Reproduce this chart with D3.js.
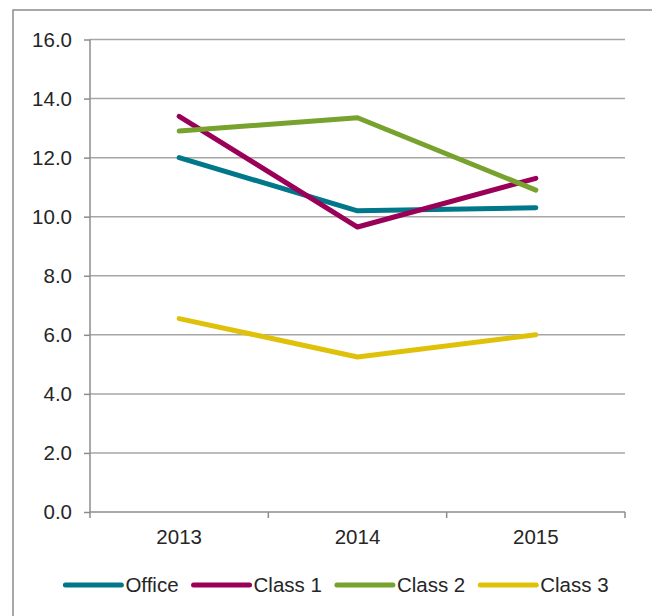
<!DOCTYPE html>
<html>
<head>
<meta charset="utf-8">
<script src="https://cdnjs.cloudflare.com/ajax/libs/d3/7.8.5/d3.min.js"></script>
<style>
  body { margin: 0; background: #fff; }
  text { font-family: "Liberation Sans", Arial, sans-serif; fill: #262626; }
</style>
</head>
<body>
<div id="chart"></div>
<script>
// chart values
var years = ["2013", "2014", "2015"];
var seriesNames = ["Office", "Class 1", "Class 2", "Class 3"];
var office = [12.0, 10.2, 10.3];
var class1 = [13.4, 9.65, 11.3];
var class2 = [12.9, 13.35, 10.9];
var class3 = [6.55, 5.25, 6.0];
var yTicks = [0, 2, 4, 6, 8, 10, 12, 14, 16];
var colors = ["#00788a", "#9b0058", "#77a22d", "#dfc10a"];

function init(){
    var w = 652;
    var h = 616;
    var margin = {left: 90, right: 27, top: 39.5, bottom: 104};
    var fontSize = 20.5;

    var svg = d3.select("#chart")
                .append("svg")
                .attr("width", w)
                .attr("height", h);

    // outer frame of the chart area
    svg.append("rect")
        .attr("x", 13).attr("y", 10)
        .attr("width", 700).attr("height", 700)
        .attr("fill", "none")
        .attr("stroke", "#8c8c8c")
        .attr("stroke-width", 1.5);

    var x = d3.scaleBand()
              .domain(years)
              .range([margin.left, w - margin.right]);

    var y = d3.scaleLinear()
              .domain([0, 16])
              .range([h - margin.bottom, margin.top]);

    // horizontal gridlines
    svg.append("g")
        .selectAll("line")
        .data(yTicks.filter(function(d){ return d > 0; }))
        .enter()
        .append("line")
        .attr("x1", margin.left)
        .attr("x2", w - margin.right)
        .attr("y1", function(d){ return y(d); })
        .attr("y2", function(d){ return y(d); })
        .attr("stroke", "#a6a6a6")
        .attr("stroke-width", 1.5);

    var yAxis = svg.append("g")
        .attr("transform", "translate(" + margin.left + ",0)")
        .call(d3.axisLeft(y).tickValues(yTicks).tickFormat(d3.format(".1f")).tickSize(6).tickPadding(12));

    var xAxis = svg.append("g")
        .attr("transform", "translate(0," + y(0) + ")")
        .call(d3.axisBottom(x).tickSize(0).tickPadding(17));

    // category boundary ticks on the x axis
    var bounds = [margin.left].concat(years.map(function(d){ return x(d) + x.bandwidth(); }));
    svg.append("g")
        .selectAll("line")
        .data(bounds)
        .enter()
        .append("line")
        .attr("x1", function(d){ return d; })
        .attr("x2", function(d){ return d; })
        .attr("y1", y(0))
        .attr("y2", y(0) + 6)
        .attr("stroke", "#8c8c8c")
        .attr("stroke-width", 1.5);

    [yAxis, xAxis].forEach(function(a){
        a.select(".domain").attr("stroke", "#8c8c8c").attr("stroke-width", 1.5);
        a.selectAll(".tick line").attr("stroke", "#8c8c8c").attr("stroke-width", 1.5);
        a.selectAll(".tick text")
            .attr("font-size", fontSize)
            .attr("fill", "#262626")
            .attr("font-family", "Liberation Sans, Arial, sans-serif");
    });
    yAxis.select(".domain").attr("d", "M0," + y(16) + "V" + y(0));
    xAxis.select(".domain").attr("d", "M" + margin.left + ",0H" + (w - margin.right));

    var allSeries = [office, class1, class2, class3];

    var line = d3.line()
                 .x(function(d, i){ return x(years[i]) + x.bandwidth() / 2; })
                 .y(function(d){ return y(d); });

    svg.append("g")
        .selectAll("path")
        .data(allSeries)
        .enter()
        .append("path")
        .attr("d", line)
        .attr("fill", "none")
        .attr("stroke", function(d, i){ return colors[i]; })
        .attr("stroke-width", 5)
        .attr("stroke-linecap", "round")
        .attr("stroke-linejoin", "round");

    // legend, laid out left to right then centred
    var legend = svg.append("g");
    var lx = 0;
    seriesNames.forEach(function(name, i){
        var item = legend.append("g").attr("transform", "translate(" + lx + ",0)");
        item.append("line")
            .attr("x1", 0).attr("x2", 56)
            .attr("y1", 0).attr("y2", 0)
            .attr("stroke", colors[i])
            .attr("stroke-width", 5)
            .attr("stroke-linecap", "round");
        var t = item.append("text")
            .attr("x", 60)
            .attr("y", 7)
            .attr("font-size", fontSize)
            .text(name);
        lx += 60 + t.node().getComputedTextLength() + 15;
    });
    var legendWidth = lx - 15;
    legend.attr("transform", "translate(" + (337 - legendWidth / 2) + ",585)");
}
window.onload = init;
</script>
</body>
</html>
